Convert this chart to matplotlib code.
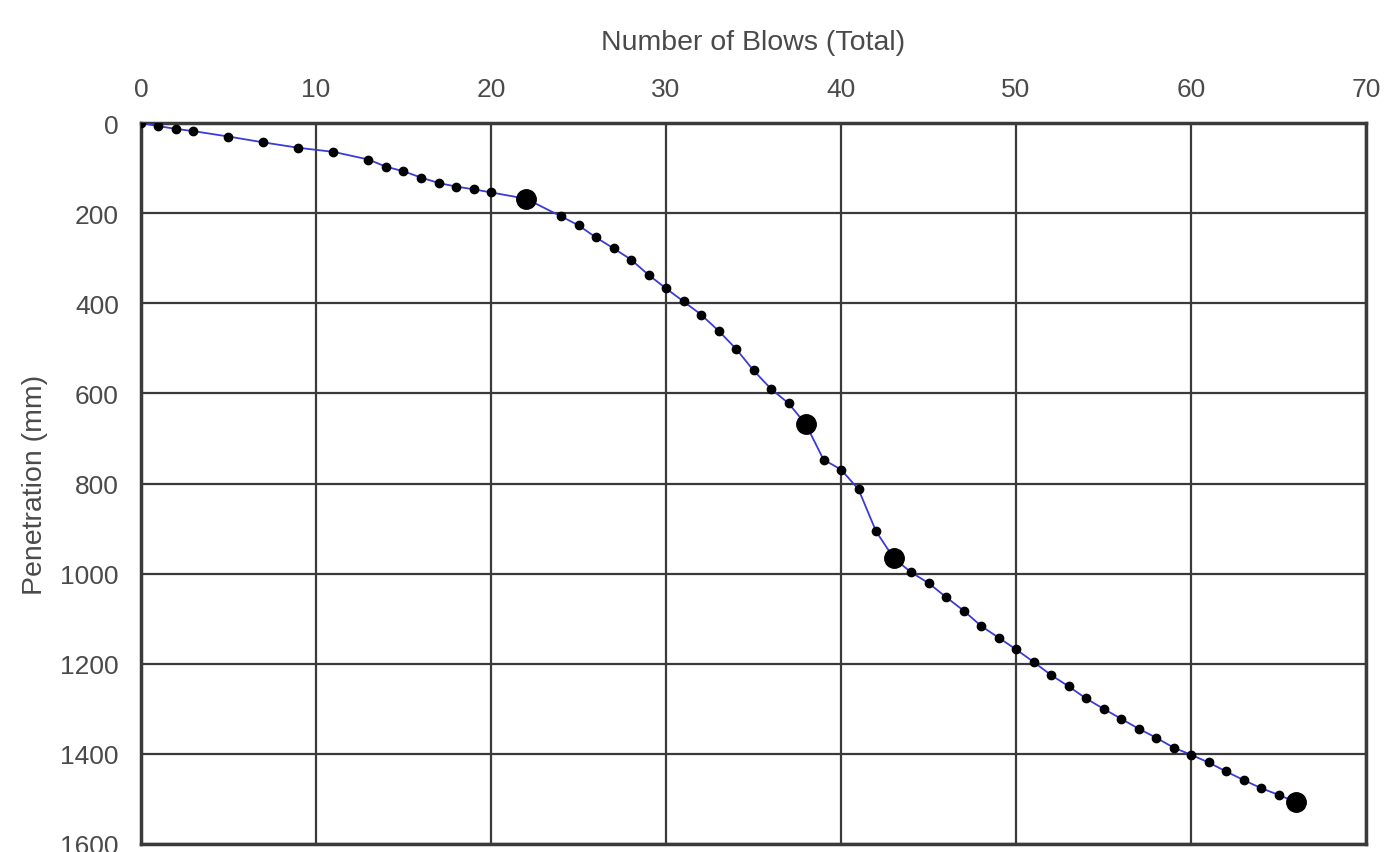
import matplotlib.pyplot as plt

blows = [0, 1, 2, 3, 5, 7, 9, 11, 13, 14, 15, 16, 17, 18, 19, 20, 22,
         24, 25, 26, 27, 28, 29, 30, 31, 32, 33, 34, 35, 36, 37, 38, 39,
         40, 41, 42, 43, 44, 45, 46, 47, 48, 49, 50, 51, 52, 53, 54, 55,
         56, 57, 58, 59, 60, 61, 62, 63, 64, 65, 66]
penetration = [0, 7, 13, 18, 30, 43, 55, 64, 81, 97, 107, 121, 133, 141, 147, 154, 168,
               207, 227, 254, 278, 303, 337, 367, 396, 425, 461, 501, 549, 590, 622, 669, 747,
               769, 813, 906, 965, 997, 1021, 1052, 1082, 1116, 1142, 1168, 1196, 1225, 1250, 1277, 1300,
               1322, 1344, 1364, 1386, 1402, 1419, 1439, 1458, 1476, 1491, 1507]
# blows at which the larger markers are drawn
key_blows = [22, 38, 43, 66]

plt.rcParams['font.family'] = ['Liberation Sans', 'DejaVu Sans']

fig = plt.figure(figsize=(13.85, 8.53), dpi=100)
ax = fig.add_axes([0.1018, 0.0094, 0.8845, 0.8452])

ax.plot(blows, penetration, color='#3b3bd6', lw=1.3, marker='o', ms=6,
        mfc='black', mec='black', zorder=3)
key_pen = [penetration[blows.index(b)] for b in key_blows]
ax.plot(key_blows, key_pen, 'o', color='black', ms=14, zorder=4)

ax.set_xlim(0, 70)
ax.set_ylim(1600, 0)
ax.set_xticks(range(0, 71, 10))
ax.set_yticks(range(0, 1601, 200))
ax.xaxis.tick_top()
ax.xaxis.set_label_position('top')
ax.tick_params(length=0, labelsize=19, colors='#4a4a4a')
ax.tick_params(axis='x', pad=16)
ax.tick_params(axis='y', pad=16)

ax.grid(True, color='#3a3a3a', lw=1.6)
ax.set_axisbelow(True)
for s in ax.spines.values():
    s.set_color('#3a3a3a')
    s.set_linewidth(2.5)

ax.set_xlabel('Number of Blows (Total)', fontsize=20.5, color='#4a4a4a', labelpad=20)
ax.set_ylabel('Penetration (mm)', fontsize=20.5, color='#4a4a4a', labelpad=9)

fig.savefig('out.png', dpi=100)
